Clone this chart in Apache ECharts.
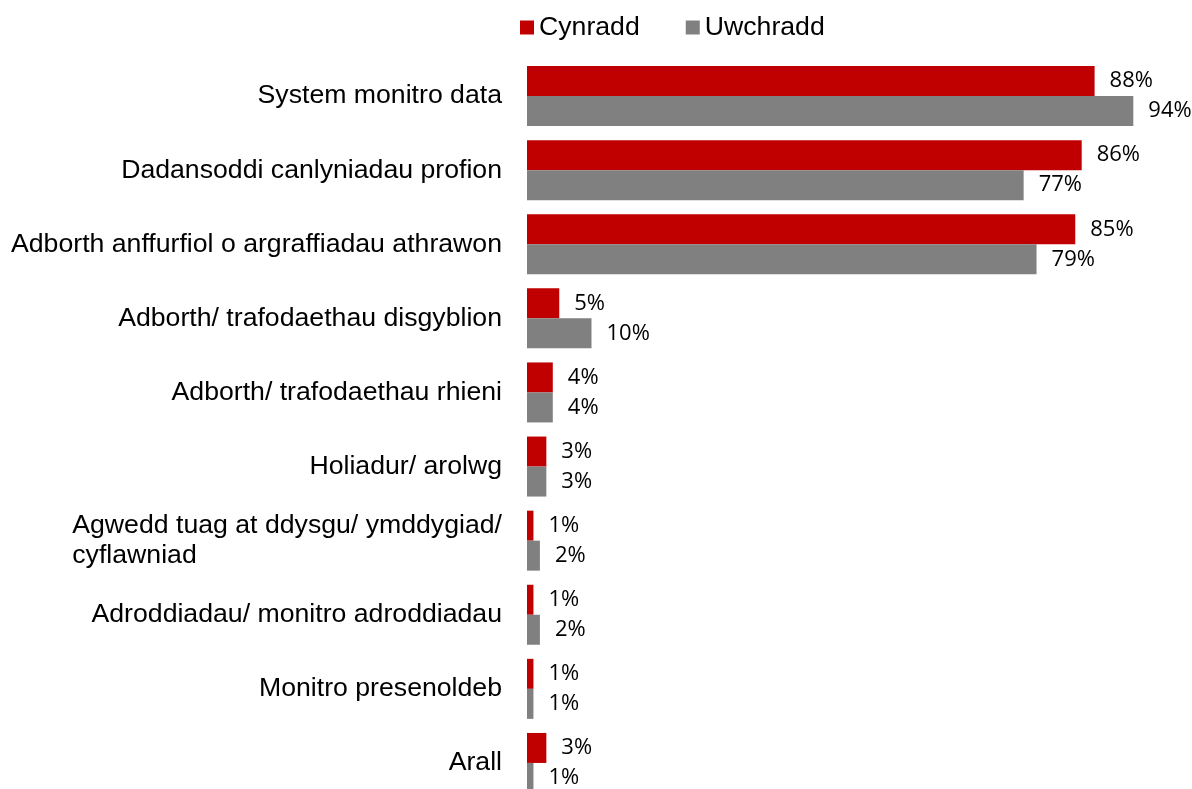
<!DOCTYPE html>
<html>
<head>
<meta charset="utf-8">
<script src="https://cdn.jsdelivr.net/npm/echarts@6/dist/echarts.min.js"></script>
<style>
html,body{margin:0;padding:0;background:#fff;overflow:hidden;}
#chart{width:1192px;height:800px;}
</style>
</head>
<body>
<div id="chart"></div>
<script>
const categories = [
  'System monitro data',
  'Dadansoddi canlyniadau profion',
  'Adborth anffurfiol o argraffiadau athrawon',
  'Adborth/ trafodaethau disgyblion',
  'Adborth/ trafodaethau rhieni',
  'Holiadur/ arolwg',
  'Agwedd tuag at ddysgu/ ymddygiad/\ncyflawniad',
  'Adroddiadau/ monitro adroddiadau',
  'Monitro presenoldeb',
  'Arall'
];
const cynradd = [88, 86, 85, 5, 4, 3, 1, 1, 1, 3];
const uwchradd = [94, 77, 79, 10, 4, 3, 2, 2, 1, 1];
const seriesNames = ['Cynradd', 'Uwchradd'];

const catSize = 26.67;
const catFamily = '"Liberation Sans", Arial, sans-serif';
const cv = document.createElement('canvas').getContext('2d');
cv.font = catSize + 'px ' + catFamily;
function maxLineWidth(s) {
  return Math.max.apply(null, s.split('\n').map(l => cv.measureText(l).width));
}

const chart = echarts.init(document.getElementById('chart'));
const labelStyle = {
  show: true,
  position: 'right',
  distance: 15,
  formatter: '{c}%',
  fontFamily: '"Open Sans", sans-serif',
  fontSize: 22,
  color: '#000'
};
chart.setOption({
  animation: false,
  legend: {
    data: seriesNames,
    left: 520,
    top: 14,
    padding: 0,
    itemWidth: 14,
    itemHeight: 14,
    itemGap: 46,
    icon: 'rect',
    textStyle: {fontFamily: catFamily, fontSize: catSize, color: '#000'}
  },
  grid: {left: 527, right: 20, top: 59, bottom: 0, containLabel: false},
  xAxis: {
    type: 'value', min: 0, max: 100, show: false
  },
  yAxis: {
    type: 'category',
    inverse: true,
    data: categories,
    axisLine: {show: false},
    axisTick: {show: false},
    axisLabel: {
      margin: 25,
      fontFamily: catFamily,
      fontSize: catSize,
      color: '#000',
      lineHeight: 30,
      formatter: function (v) {
        if (v.indexOf('\n') < 0) return v;
        return v.split('\n').map(l => '{l|' + l + '}').join('\n');
      },
      rich: {
        l: {
          width: maxLineWidth(categories[6]),
          align: 'left',
          fontFamily: catFamily,
          fontSize: catSize,
          lineHeight: 30,
          color: '#000'
        }
      }
    }
  },
  series: [
    {name: seriesNames[0], type: 'bar', data: cynradd, barWidth: 30, barGap: '0%',
     itemStyle: {color: '#C00000'}, label: labelStyle},
    {name: seriesNames[1], type: 'bar', data: uwchradd, barWidth: 30, barGap: '0%',
     itemStyle: {color: '#808080'}, label: labelStyle}
  ]
});
</script>
</body>
</html>
